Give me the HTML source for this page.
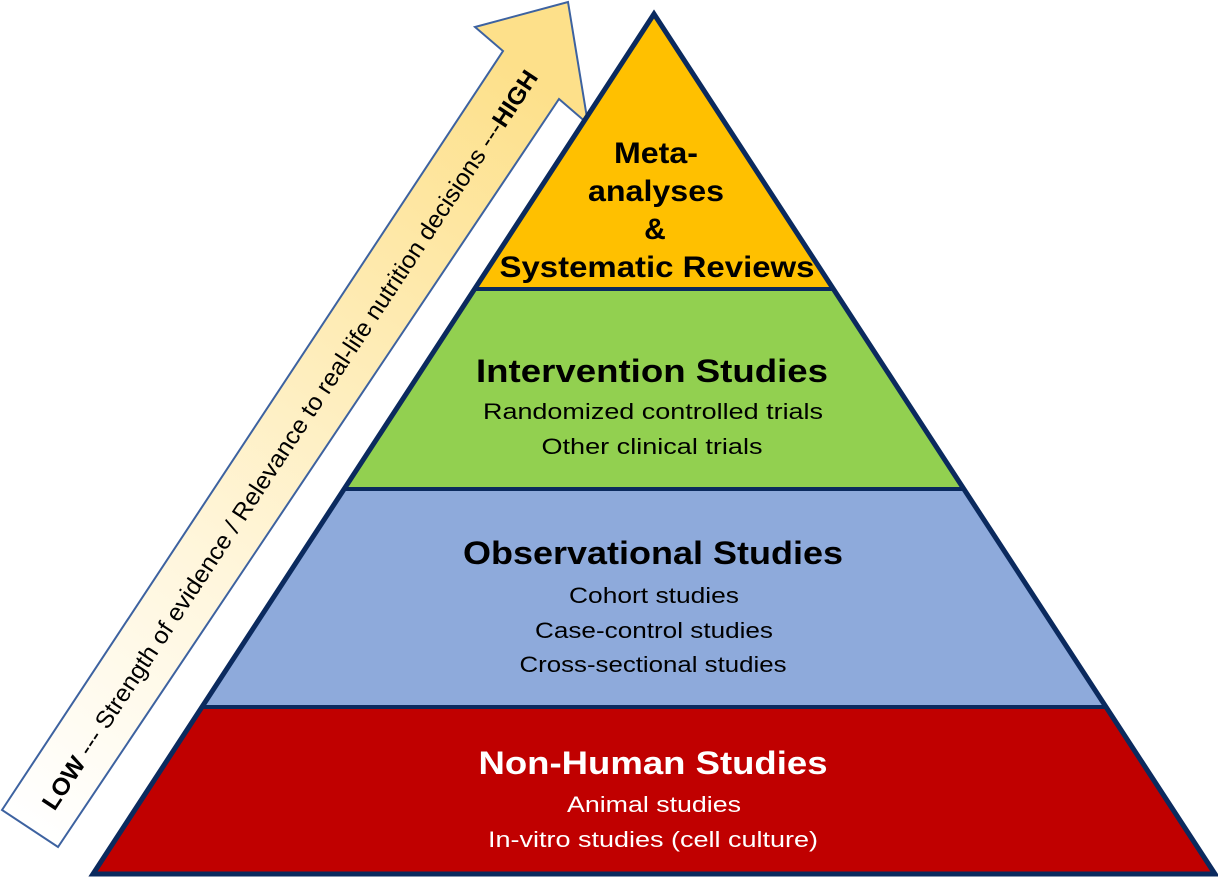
<!DOCTYPE html>
<html><head><meta charset="utf-8"><style>body{margin:0;background:#fff}svg{display:block}</style></head>
<body>
<svg width="1218" height="877" viewBox="0 0 1218 877" xmlns="http://www.w3.org/2000/svg">
<defs>
<linearGradient id="g" x1="30" y1="828" x2="531" y2="75" gradientUnits="userSpaceOnUse">
<stop offset="0" stop-color="#ffffff"/><stop offset="0.35" stop-color="#fff6dc"/><stop offset="1" stop-color="#fde08a"/>
</linearGradient>
</defs>
<polygon points="2,810 503,51 475,27 568,2 588,124 559,99 58,847" fill="url(#g)" stroke="#3d62a0" stroke-width="2"/>
<text x="290" y="440" transform="rotate(-56.6 290 440)" text-anchor="middle" dominant-baseline="central" font-family="Liberation Sans, sans-serif" font-size="24" textLength="880" lengthAdjust="spacingAndGlyphs"><tspan font-weight="bold">LOW</tspan> --- Strength of evidence / Relevance to real-life nutrition decisions ---<tspan font-weight="bold">HIGH</tspan></text>

<polygon points="654,14 833,289 475,289" fill="#ffc000"/>
<polygon points="475,289 833,289 964,489 344,489" fill="#92d050"/>
<polygon points="344,489 964,489 1106,707 202,707" fill="#8eaadb"/>
<polygon points="202,707 1106,707 1215,874 93,874" fill="#c00000"/>
<g stroke="#0b2a5e" stroke-width="4">
<line x1="475" y1="289" x2="833" y2="289"/>
<line x1="344" y1="489" x2="964" y2="489"/>
<line x1="202" y1="707" x2="1106" y2="707"/>
</g>
<polygon points="654,14 1215,874 93,874" fill="none" stroke="#0b2a5e" stroke-width="5" stroke-linejoin="miter"/>

<g font-family="Liberation Sans, sans-serif" text-anchor="middle" font-weight="bold" font-size="30">
<text x="656" y="163" textLength="84" lengthAdjust="spacingAndGlyphs">Meta-</text>
<text x="656" y="201" textLength="136" lengthAdjust="spacingAndGlyphs">analyses</text>
<text x="655" y="239">&amp;</text>
<text x="657" y="277" textLength="315" lengthAdjust="spacingAndGlyphs">Systematic Reviews</text>
</g>
<g font-family="Liberation Sans, sans-serif" text-anchor="middle">
<text x="652" y="382" font-size="32" font-weight="bold" textLength="352" lengthAdjust="spacingAndGlyphs">Intervention Studies</text>
<text x="653" y="419" font-size="22" textLength="340" lengthAdjust="spacingAndGlyphs">Randomized controlled trials</text>
<text x="652" y="454" font-size="22" textLength="221" lengthAdjust="spacingAndGlyphs">Other clinical trials</text>

<text x="653" y="564" font-size="32" font-weight="bold" textLength="380" lengthAdjust="spacingAndGlyphs">Observational Studies</text>
<text x="654" y="603" font-size="22" textLength="170" lengthAdjust="spacingAndGlyphs">Cohort studies</text>
<text x="654" y="638" font-size="22" textLength="238" lengthAdjust="spacingAndGlyphs">Case-control studies</text>
<text x="653" y="672" font-size="22" textLength="267" lengthAdjust="spacingAndGlyphs">Cross-sectional studies</text>

<g fill="#fff">
<text x="653" y="774" font-size="32" font-weight="bold" textLength="349" lengthAdjust="spacingAndGlyphs">Non-Human Studies</text>
<text x="654" y="812" font-size="22" textLength="174" lengthAdjust="spacingAndGlyphs">Animal studies</text>
<text x="653" y="847" font-size="22" textLength="330" lengthAdjust="spacingAndGlyphs">In-vitro studies (cell culture)</text>
</g>
</g>
</svg>
</body></html>
